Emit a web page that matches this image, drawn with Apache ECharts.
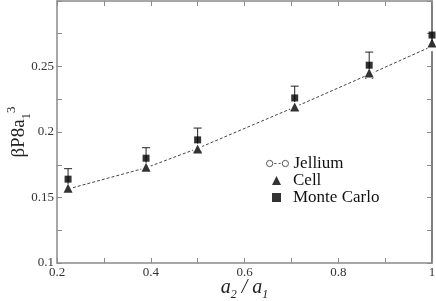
<!DOCTYPE html>
<html>
<head>
<meta charset="utf-8">
<script src="https://cdn.jsdelivr.net/npm/echarts@6/dist/echarts.min.js"></script>
<style>html,body{margin:0;padding:0;background:#fff}#c{width:436px;height:301px}</style>
</head>
<body>
<div id="c"></div>
<script>
var xValues = [0.2236, 0.39, 0.5, 0.7071, 0.866, 1.0];
var jellium = [0.1565, 0.1727, 0.1875, 0.219, 0.244, 0.2655];
var cell = [0.157, 0.173, 0.187, 0.219, 0.245, 0.268];
var monteCarlo = [0.164, 0.180, 0.194, 0.226, 0.251, 0.274];
var monteCarloErr = [0.008, 0.008, 0.009, 0.009, 0.010, null];
var seriesNames = ['Jellium', 'Cell', 'Monte Carlo'];

function pairs(ys) { return xValues.map(function (x, i) { return [x, ys[i]]; }); }
var errData = xValues.map(function (x, i) { return [x, monteCarlo[i], monteCarloErr[i]]; })
  .filter(function (d) { return d[2] != null; });

var FONT = 'Liberation Serif';
var axisGray = '#8a8a8a';
var labelColor = '#333';
var legendText = { fontFamily: FONT, fontSize: 17, color: '#111' };
var jelliumIcon = 'path://M0.5,3.5A3,3 0 1,0 6.5,3.5A3,3 0 1,0 0.5,3.5M8,3.5L10,3.5M12,3.5L14,3.5M15.5,3.5A3,3 0 1,0 21.5,3.5A3,3 0 1,0 15.5,3.5';

var chart = echarts.init(document.getElementById('c'));
chart.setOption({
  animation: false,
  grid: { left: 57, right: 4, top: 1, bottom: 38, containLabel: false, outerBoundsMode: 'none' },
  legend: [{
    orient: 'vertical', left: 261, top: 150,
    itemWidth: 22, itemHeight: 7,
    data: [{ name: seriesNames[0], icon: jelliumIcon,
      itemStyle: { color: 'transparent', borderColor: '#555', borderWidth: 1 } }],
    textStyle: legendText
  }, {
    orient: 'vertical', left: 267, top: 167, itemGap: 0,
    itemWidth: 9, itemHeight: 9,
    data: [seriesNames[1], seriesNames[2]],
    textStyle: Object.assign({ padding: [0, 0, 0, 7] }, legendText)
  }],
  xAxis: [{
    type: 'value', min: 0.2, max: 1, interval: 0.2,
    name: '{i|a}{s|2}{i| / a}{s|1}', nameLocation: 'middle', nameGap: 12, nameMoveOverlap: false,
    nameTextStyle: { rich: {
      i: { fontFamily: FONT, fontStyle: 'italic', fontSize: 20, color: '#222', lineHeight: 26 },
      s: { fontFamily: FONT, fontStyle: 'italic', fontSize: 12, color: '#222', lineHeight: 12, verticalAlign: 'bottom' }
    } },
    axisLine: { lineStyle: { color: axisGray, width: 1.5 } },
    axisTick: { inside: true, length: 5, lineStyle: { color: axisGray } },
    minorTick: { show: true, splitNumber: 2, length: 5, lineStyle: { color: axisGray } },
    splitLine: { show: false },
    axisLabel: { fontFamily: FONT, fontSize: 13, color: labelColor, margin: 3 }
  }, {
    type: 'value', min: 0.2, max: 1, interval: 0.2, position: 'top',
    axisLine: { lineStyle: { color: axisGray, width: 1.5 } },
    axisTick: { inside: true, length: 5, lineStyle: { color: axisGray } },
    minorTick: { show: true, splitNumber: 2, length: 5, lineStyle: { color: axisGray } },
    splitLine: { show: false }, axisLabel: { show: false }
  }],
  yAxis: [{
    type: 'value', min: 0.1, max: 0.3, interval: 0.05,
    name: '{m|βP8a}{s|1}{p|3}', nameLocation: 'middle', nameGap: 24, nameRotate: 90, nameMoveOverlap: false,
    nameTextStyle: { rich: {
      m: { fontFamily: FONT, fontSize: 19, color: '#222', lineHeight: 28 },
      s: { fontFamily: FONT, fontSize: 13, color: '#222', lineHeight: 12, verticalAlign: 'bottom' },
      p: { fontFamily: FONT, fontSize: 13, color: '#222', lineHeight: 12, verticalAlign: 'top' }
    } },
    axisLine: { show: true, lineStyle: { color: axisGray, width: 1.5 } },
    axisTick: { show: true, inside: true, length: 5, lineStyle: { color: axisGray } },
    minorTick: { show: true, splitNumber: 2, length: 5, lineStyle: { color: axisGray } },
    splitLine: { show: false },
    axisLabel: { fontFamily: FONT, fontSize: 13, color: labelColor, margin: 3, showMaxLabel: false }
  }, {
    type: 'value', min: 0.1, max: 0.3, interval: 0.05, position: 'right',
    axisLine: { show: true, lineStyle: { color: '#555', width: 1.5 } },
    axisTick: { show: true, inside: true, length: 5, lineStyle: { color: axisGray } },
    minorTick: { show: true, splitNumber: 2, length: 5, lineStyle: { color: axisGray } },
    splitLine: { show: false }, axisLabel: { show: false }
  }],
  series: [{
    name: 'Monte Carlo err', type: 'custom', xAxisIndex: 0, yAxisIndex: 0, z: 3,
    data: errData,
    renderItem: function (params, api) {
      var x = api.value(0), y = api.value(1), e = api.value(2);
      var top = api.coord([x, y + e]), bot = api.coord([x, y - e]);
      var hw = 4;
      var st = { stroke: '#222', lineWidth: 1 };
      return { type: 'group', children: [
        { type: 'line', shape: { x1: top[0], y1: top[1], x2: bot[0], y2: bot[1] }, style: st },
        { type: 'line', shape: { x1: top[0] - hw, y1: top[1], x2: top[0] + hw, y2: top[1] }, style: st },
        { type: 'line', shape: { x1: bot[0] - hw, y1: bot[1], x2: bot[0] + hw, y2: bot[1] }, style: st }
      ] };
    }
  }, {
    name: 'Jellium', type: 'line', data: pairs(jellium), z: 4,
    symbol: 'emptyCircle', symbolSize: 8,
    lineStyle: { color: '#444', width: 1, type: [3, 2] },
    itemStyle: { color: '#fff', borderColor: '#555', borderWidth: 1 }
  }, {
    name: 'Cell', type: 'scatter', data: pairs(cell), z: 5,
    symbol: 'triangle', symbolSize: 9,
    itemStyle: { color: '#000' }
  }, {
    name: 'Monte Carlo', type: 'scatter', data: pairs(monteCarlo), z: 5,
    symbol: 'rect', symbolSize: 7,
    itemStyle: { color: '#000' }
  }]
});
</script>
</body>
</html>
